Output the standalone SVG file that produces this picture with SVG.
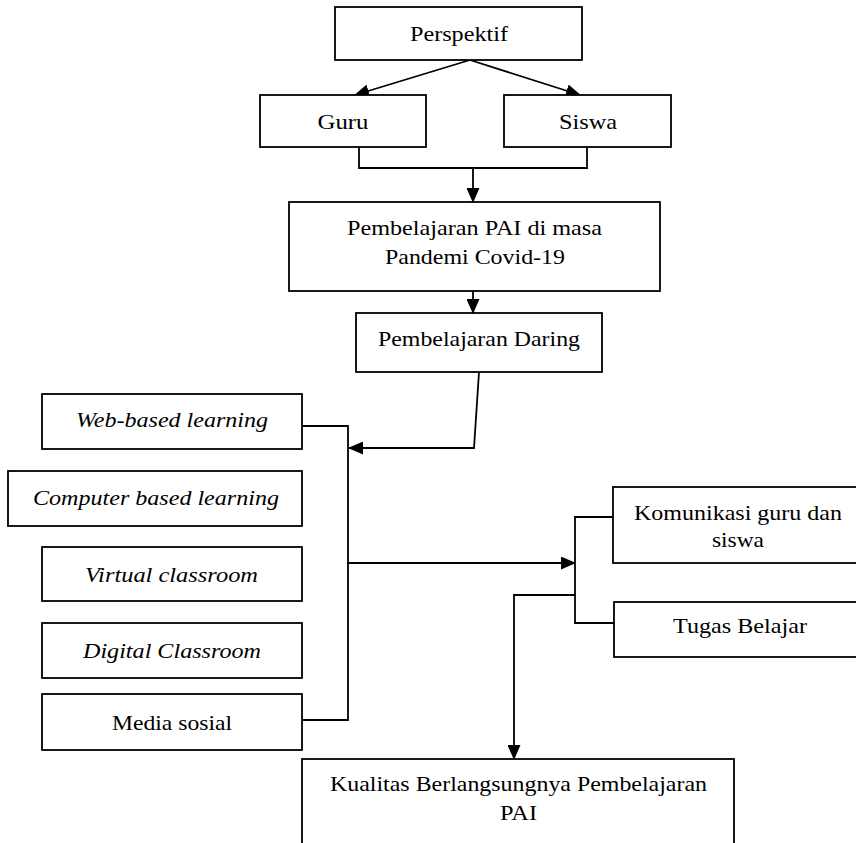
<svg xmlns="http://www.w3.org/2000/svg" width="856" height="843" viewBox="0 0 856 843">
<style>
rect{fill:#fff;stroke:#000;stroke-width:1.8}
text{font-family:'Liberation Serif',serif;font-size:22px;fill:#000;text-anchor:middle}
.it{font-style:italic}
#connectors path{fill:none;stroke:#000;stroke-width:1.8}
</style>
<defs>
<marker id="ah" markerUnits="userSpaceOnUse" markerWidth="15" markerHeight="13" refX="14" refY="6.5" orient="auto">
<path d="M0,0 L15,6.5 L0,13 Z" fill="#000"/>
</marker>
</defs>
<rect x="0" y="0" width="856" height="843" style="stroke:none"/>
<g id="connectors">
<path d="M470,60 L355,95" marker-end="url(#ah)"/>
<path d="M470,60 L580,95" marker-end="url(#ah)"/>
<path d="M359,147 V168 H587 V147"/>
<path d="M473,168 V202" marker-end="url(#ah)"/>
<path d="M473,291 V313" marker-end="url(#ah)"/>
<path d="M479,372 L474,448 H349" marker-end="url(#ah)"/>
<path d="M302,426 H348 V720 H302"/>
<path d="M348,563 H575" marker-end="url(#ah)"/>
<path d="M613,517 H575 V623 H614"/>
<path d="M575,595 H514 V759" marker-end="url(#ah)"/>
</g>
<g id="perspektif"><rect x="335" y="7" width="247" height="53"/><text x="459" y="41" textLength="98" lengthAdjust="spacingAndGlyphs">Perspektif</text></g>
<g id="guru"><rect x="260" y="95" width="166" height="52"/><text x="343" y="129" textLength="51" lengthAdjust="spacingAndGlyphs">Guru</text></g>
<g id="siswa"><rect x="504" y="95" width="167" height="52"/><text x="588" y="129" textLength="58" lengthAdjust="spacingAndGlyphs">Siswa</text></g>
<g id="pai"><rect x="289" y="202" width="371" height="89"/><text x="474.5" y="235" textLength="255" lengthAdjust="spacingAndGlyphs">Pembelajaran PAI di masa</text><text x="475" y="264" textLength="180" lengthAdjust="spacingAndGlyphs">Pandemi Covid-19</text></g>
<g id="daring"><rect x="356" y="313" width="246" height="59"/><text x="479" y="346" textLength="202" lengthAdjust="spacingAndGlyphs">Pembelajaran Daring</text></g>
<g id="web"><rect x="42" y="394" width="260" height="55"/><text class="it" x="172" y="427" textLength="192" lengthAdjust="spacingAndGlyphs">Web-based learning</text></g>
<g id="computer"><rect x="8" y="471" width="294" height="55"/><text class="it" x="156" y="505" textLength="246" lengthAdjust="spacingAndGlyphs">Computer based learning</text></g>
<g id="virtual"><rect x="42" y="547" width="260" height="54"/><text class="it" x="171.5" y="582" textLength="173" lengthAdjust="spacingAndGlyphs">Virtual classroom</text></g>
<g id="digital"><rect x="42" y="623" width="260" height="55"/><text class="it" x="172" y="658" textLength="178" lengthAdjust="spacingAndGlyphs">Digital Classroom</text></g>
<g id="media"><rect x="42" y="694" width="260" height="56"/><text x="172" y="730" textLength="120" lengthAdjust="spacingAndGlyphs">Media sosial</text></g>
<g id="komunikasi"><rect x="613" y="487" width="260" height="76"/><text x="738" y="520" textLength="208" lengthAdjust="spacingAndGlyphs">Komunikasi guru dan</text><text x="738" y="547" textLength="52" lengthAdjust="spacingAndGlyphs">siswa</text></g>
<g id="tugas"><rect x="614" y="602" width="260" height="55"/><text x="740" y="633" textLength="134" lengthAdjust="spacingAndGlyphs">Tugas Belajar</text></g>
<g id="kualitas"><rect x="302" y="759" width="432" height="100"/><text x="518.5" y="791" textLength="377" lengthAdjust="spacingAndGlyphs">Kualitas Berlangsungnya Pembelajaran</text><text x="518.5" y="820" textLength="37" lengthAdjust="spacingAndGlyphs">PAI</text></g>
</svg>
